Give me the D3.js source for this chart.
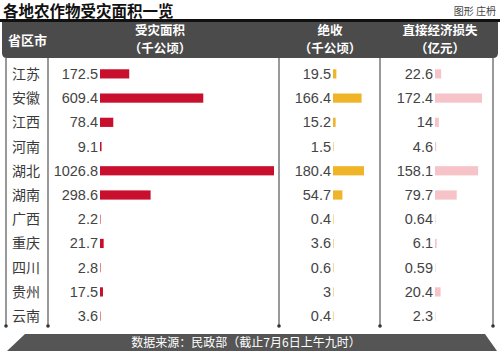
<!DOCTYPE html>
<html lang="zh">
<head>
<meta charset="UTF-8">
<title>各地农作物受灾面积一览</title>
<script src="https://d3js.org/d3.v7.min.js"></script>
<style>
    body { margin: 0; background: #fff; }
    text { font-family: "Noto Sans CJK SC", "Liberation Sans", sans-serif; }
    .num { font-family: "Liberation Sans", Arial, sans-serif; font-size: 14.5px; fill: #444; }
</style>
</head>
<body>
<script>
const provinces = ['江苏', '安徽', '江西', '河南', '湖北', '湖南', '广西', '重庆', '四川', '贵州', '云南']
const area = [172.5, 609.4, 78.4, 9.1, 1026.8, 298.6, 2.2, 21.7, 2.8, 17.5, 3.6]
const failed = [19.5, 166.4, 15.2, 1.5, 180.4, 54.7, 0.4, 3.6, 0.6, 3, 0.4]
const loss = [22.6, 172.4, 14, 4.6, 158.1, 79.7, 0.64, 6.1, 0.59, 20.4, 2.3]

const width = 500
const height = 359

const svg = d3.select("body").append("svg")
    .attr("width", width)
    .attr("height", height)

// title
svg.append("text")
    .text("各地农作物受灾面积一览")
    .attr("x", 3).attr("y", 17)
    .attr("font-size", 15.5).attr("font-weight", "bold").attr("fill", "#111")
svg.append("text")
    .text("图形 庄枬")
    .attr("x", 496).attr("y", 15)
    .attr("text-anchor", "end")
    .attr("font-size", 10).attr("fill", "#444")

// header bar
svg.append("path")
    .attr("d", "M2,21 H498 V53 Q498,58 493,58 H7 Q2,58 2,53 Z")
    .attr("fill", "#4b4b4b")
svg.append("rect")
    .attr("x", 0).attr("y", 19).attr("width", width).attr("height", 3)
    .attr("fill", "#111")

const head = [
    {x: 8, l1: "省区市", l2: null},
    {x: 160, l1: "受灾面积", l2: "（千公顷）"},
    {x: 330, l1: "绝收", l2: "（千公顷）"},
    {x: 440, l1: "直接经济损失", l2: "（亿元）"}
]
head.forEach(function (h) {
    if (h.l2 === null) {
        svg.append("text").text(h.l1)
            .attr("x", h.x).attr("y", 45)
            .attr("font-size", 13).attr("font-weight", "bold").attr("fill", "#fff")
    } else {
        svg.append("text").text(h.l1)
            .attr("x", h.x).attr("y", 35).attr("text-anchor", "middle")
            .attr("font-size", 12.5).attr("font-weight", "bold").attr("fill", "#fff")
        svg.append("text").text(h.l2)
            .attr("x", h.x).attr("y", 53).attr("text-anchor", "middle")
            .attr("font-size", 12.5).attr("font-weight", "bold").attr("fill", "#fff")
    }
})

// rows
const yScale = d3.scaleBand()
    .domain(provinces)
    .range([62, 328])
    .paddingInner(0.62)
    .paddingOuter(0.3)

// vertical separators
const lineX = [6, 48, 279, 380, 493]
lineX.forEach(function (x) {
    svg.append("line")
        .attr("x1", x).attr("x2", x).attr("y1", 58).attr("y2", 326)
        .attr("stroke", "#555").attr("stroke-width", 1.2)
    svg.append("circle")
        .attr("cx", x).attr("cy", 326).attr("r", 1.8).attr("fill", "#333")
})

svg.selectAll(".prov")
    .data(provinces)
    .enter().append("text")
    .attr("class", "prov")
    .text(d => d)
    .attr("x", 12)
    .attr("y", d => yScale(d) + yScale.bandwidth() / 2 + 5)
    .attr("font-size", 14).attr("fill", "#3a3a3a")

const cols = [
    {vals: area, x0: 100, scale: d3.scaleLinear().domain([0, 1026.8]).range([0, 174]), color: "#c8102e"},
    {vals: failed, x0: 333, scale: d3.scaleLinear().domain([0, 180.4]).range([0, 31]), color: "#f0b429"},
    {vals: loss, x0: 435, scale: d3.scaleLinear().domain([0, 172.4]).range([0, 47]), color: "#f6c3c9"}
]

cols.forEach(function (c) {
    const g = svg.append("g")
    g.selectAll("rect")
        .data(c.vals)
        .enter().append("rect")
        .attr("x", c.x0)
        .attr("y", (d, i) => yScale(provinces[i]))
        .attr("height", yScale.bandwidth())
        .attr("width", d => Math.max(1, c.scale(d)))
        .attr("fill", c.color)
        .attr("opacity", d => c.scale(d) < 1 ? 0.5 : 1)
    g.selectAll("text")
        .data(c.vals)
        .enter().append("text")
        .attr("class", "num")
        .text(d => d)
        .attr("x", c.x0 - 2)
        .attr("y", (d, i) => yScale(provinces[i]) + yScale.bandwidth() / 2 + 5)
        .attr("text-anchor", "end")
})

// footer
svg.append("path")
    .attr("d", "M25,334 H485 L497,351 H7 Z")
    .attr("fill", "#555")
svg.append("text")
    .text("数据来源：民政部（截止7月6日上午九时）")
    .attr("x", 246).attr("y", 347)
    .attr("text-anchor", "middle")
    .attr("font-size", 12).attr("fill", "#fff")
</script>
</body>
</html>
